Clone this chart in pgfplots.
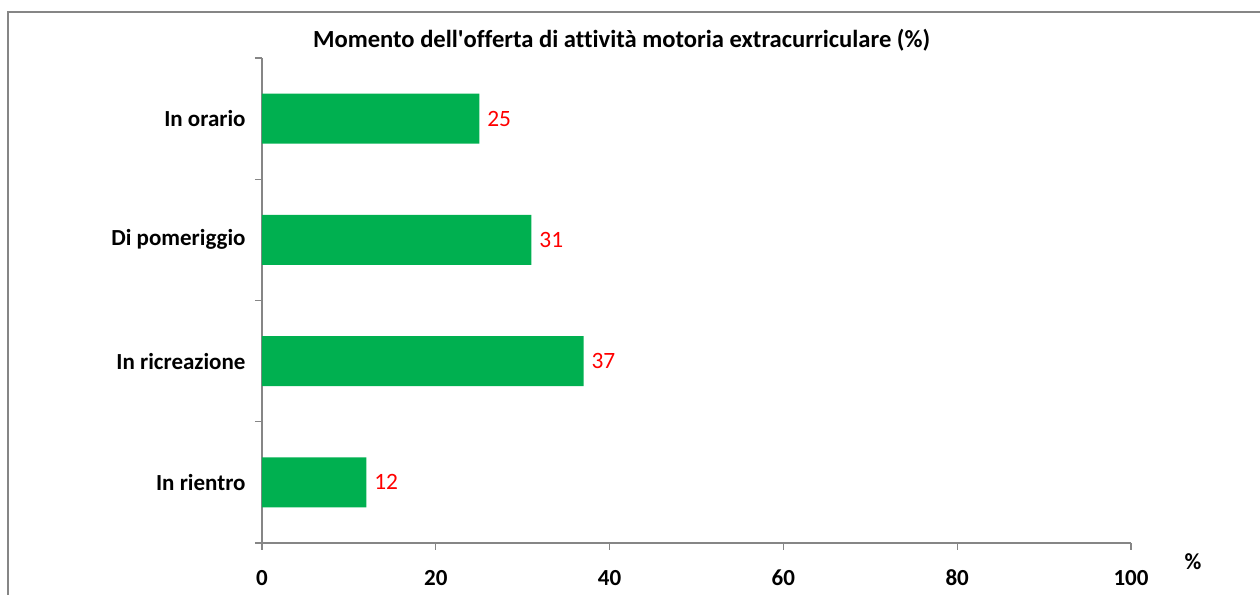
\documentclass[border=0pt]{standalone}
\usepackage{pgfplots}
\pgfplotsset{compat=1.18}
\usepackage{fontspec}
\setmainfont{Carlito}[Ligatures={TeX,NoCommon}]
\definecolor{bargreen}{HTML}{00B050}
\definecolor{axisgrey}{HTML}{868686}
\begin{document}
\fontsize{11.5}{13.8}\selectfont
\begin{tikzpicture}
\path[use as bounding box] (0,0) rectangle (630pt,297.5pt);
\draw[axisgrey, line width=0.8pt] (4pt,0) -- (4pt,291.5pt) -- (630pt,291.5pt);
\begin{axis}[
  at={(131pt,26pt)}, anchor=south west,
  scale only axis, width=434.5pt, height=242.5pt,
  xbar, bar width=25pt,
  xmin=0, xmax=100, ymin=0.5, ymax=4.5,
  xtick={0,20,...,100},
  ytick={1,2,3,4},
  yticklabels={In rientro, In ricreazione, Di pomeriggio, In orario},
  minor ytick={0.5,1.5,2.5,3.5,4.5},
  axis x line*=bottom, axis y line*=left,
  axis line style={axisgrey, line width=0.6pt},
  tick align=outside,
  major tick length=3.5pt, minor tick length=3.5pt,
  major y tick style={draw=none},
  minor y tick style={axisgrey, line width=0.6pt},
  major x tick style={axisgrey, line width=0.6pt},
  /pgf/number format/assume math mode=true,
  xticklabel style={font=\fontsize{11.5}{13.8}\selectfont\bfseries, yshift=-6pt},
  yticklabel style={font=\fontsize{11.5}{13.8}\selectfont\bfseries, xshift=-0.7pt},
  nodes near coords,
  nodes near coords style={text=red, font=\fontsize{11.7}{14}\selectfont},
]
\addplot[fill=bargreen, draw=none] coordinates {(12,1) (37,2) (31,3) (25,4)};
\end{axis}
\node[font=\fontsize{12.3}{14.5}\selectfont\bfseries] at (310.8pt,277.5pt) {Momento dell\textquotesingle offerta di attività motoria extracurriculare (\%)};
\node[font=\fontsize{11.5}{13.8}\selectfont\bfseries] at (596.5pt,16.5pt) {\%};
\end{tikzpicture}
\end{document}
